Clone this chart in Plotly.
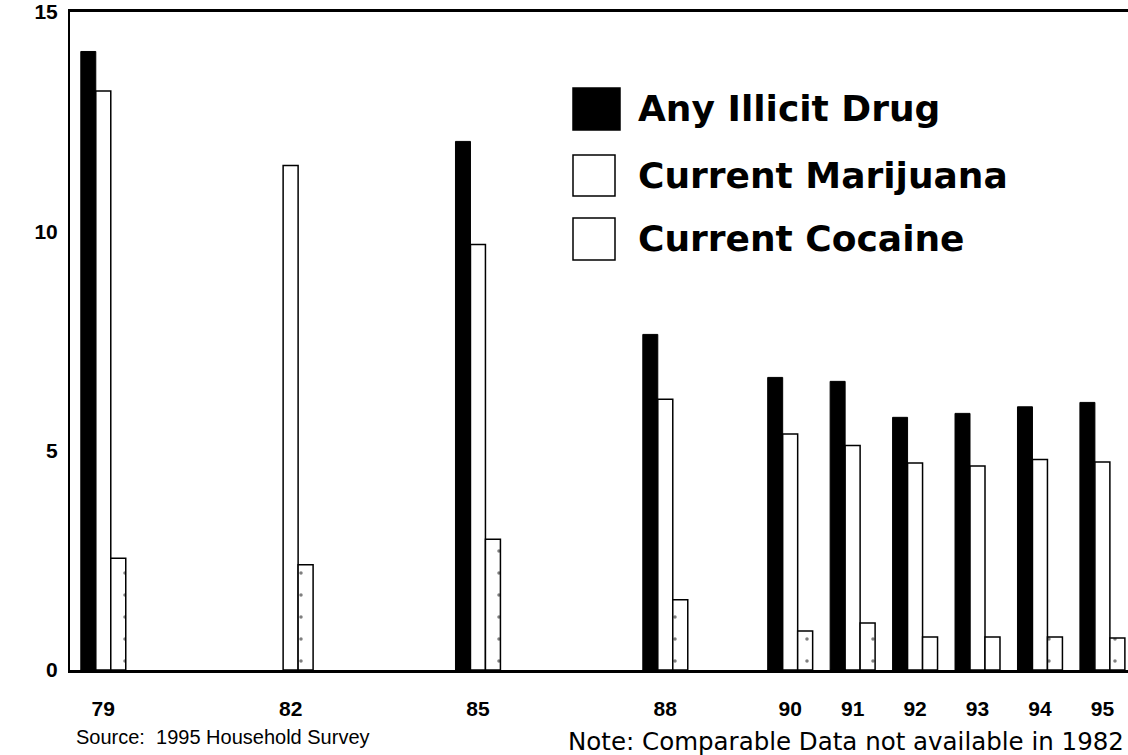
import plotly.graph_objects as go

# ---- data ----
years = [79, 82, 85, 88, 90, 91, 92, 93, 94, 95]
year_labels = ["79", "82", "85", "88", "90", "91", "92", "93", "94", "95"]
any_illicit = [14.1, None, 12.05, 7.65, 6.67, 6.58, 5.76, 5.85, 6.0, 6.1]
marijuana = [13.2, 11.5, 9.7, 6.17, 5.38, 5.12, 4.72, 4.65, 4.8, 4.74]
cocaine = [2.55, 2.4, 2.98, 1.6, 0.89, 1.07, 0.75, 0.75, 0.75, 0.73]
series_names = ["Any Illicit Drug", "Current Marijuana", "Current Cocaine"]
y_ticks = [0, 5, 10, 15]

W, H = 1128, 755
ML, MR, MT, MB = 70, 0, 12, 85
PW, PH = W - ML - MR, H - MT - MB


def px(x):
    return (x - ML) / PW


def py(y):
    return (H - MB - y) / PH


fig = go.Figure()
fig.add_trace(go.Bar(x=years, y=any_illicit, name=series_names[0],
                     marker=dict(color="black", line=dict(color="black", width=1))))
fig.add_trace(go.Bar(x=years, y=marijuana, name=series_names[1],
                     marker=dict(color="white", line=dict(color="black", width=1.5))))
fig.add_trace(go.Bar(x=years, y=cocaine, name=series_names[2],
                     marker=dict(color="white", line=dict(color="black", width=1.5),
                                 pattern=dict(shape=".", size=22, solidity=0.02,
                                              fgcolor="black", bgcolor="white"))))

tick_font = dict(family="Liberation Sans, Arial, sans-serif", size=21, color="black", weight="bold")

fig.update_layout(
    width=W, height=H, autosize=False,
    margin=dict(l=ML, r=MR, t=MT, b=MB),
    paper_bgcolor="white", plot_bgcolor="white",
    barmode="group", bargap=0.28, bargroupgap=0,
    showlegend=False,
    xaxis=dict(range=[78.467, 95.41], tickvals=years, ticktext=year_labels,
               showgrid=False, zeroline=False, ticks="",
               showline=True, linecolor="black", linewidth=3, mirror=True,
               tickfont=tick_font, ticklabelstandoff=18),
    yaxis=dict(range=[0, 15], tickvals=y_ticks, showgrid=False, zeroline=False,
               ticks="", showline=True, linecolor="black", linewidth=2,
               tickfont=tick_font, ticklabelstandoff=6),
)

# ---- manual legend ----
leg_rows = [(88, 130, 573, 620, "black"), (155, 196, 573, 615, "white"), (218, 260, 573, 615, "white")]
for (y0, y1, x0, x1, col), name in zip(leg_rows, series_names):
    fig.add_shape(type="rect", xref="paper", yref="paper",
                  x0=px(x0), x1=px(x1), y0=py(y1), y1=py(y0),
                  fillcolor=col, line=dict(color="black", width=1.5))
    fig.add_annotation(xref="paper", yref="paper", x=px(636), y=py((y0 + y1) / 2),
                       xanchor="left", yanchor="middle", showarrow=False,
                       text=name,
                       font=dict(family="DejaVu Sans", size=36, color="black", weight="bold"))

fig.add_annotation(xref="paper", yref="paper", x=px(74), y=py(737),
                   xanchor="left", yanchor="middle", showarrow=False,
                   text="Source:  1995 Household Survey",
                   font=dict(family="Liberation Sans, Arial", size=20, color="black"))
fig.add_annotation(xref="paper", yref="paper", x=px(1126), y=py(742),
                   xanchor="right", yanchor="middle", showarrow=False,
                   text="Note: Comparable Data not available in 1982",
                   font=dict(family="DejaVu Sans", size=24.5, color="black"))

fig.write_html("out.html", config={"displayModeBar": False},
               post_script="document.body.style.margin='0';document.body.style.overflow='hidden';")
